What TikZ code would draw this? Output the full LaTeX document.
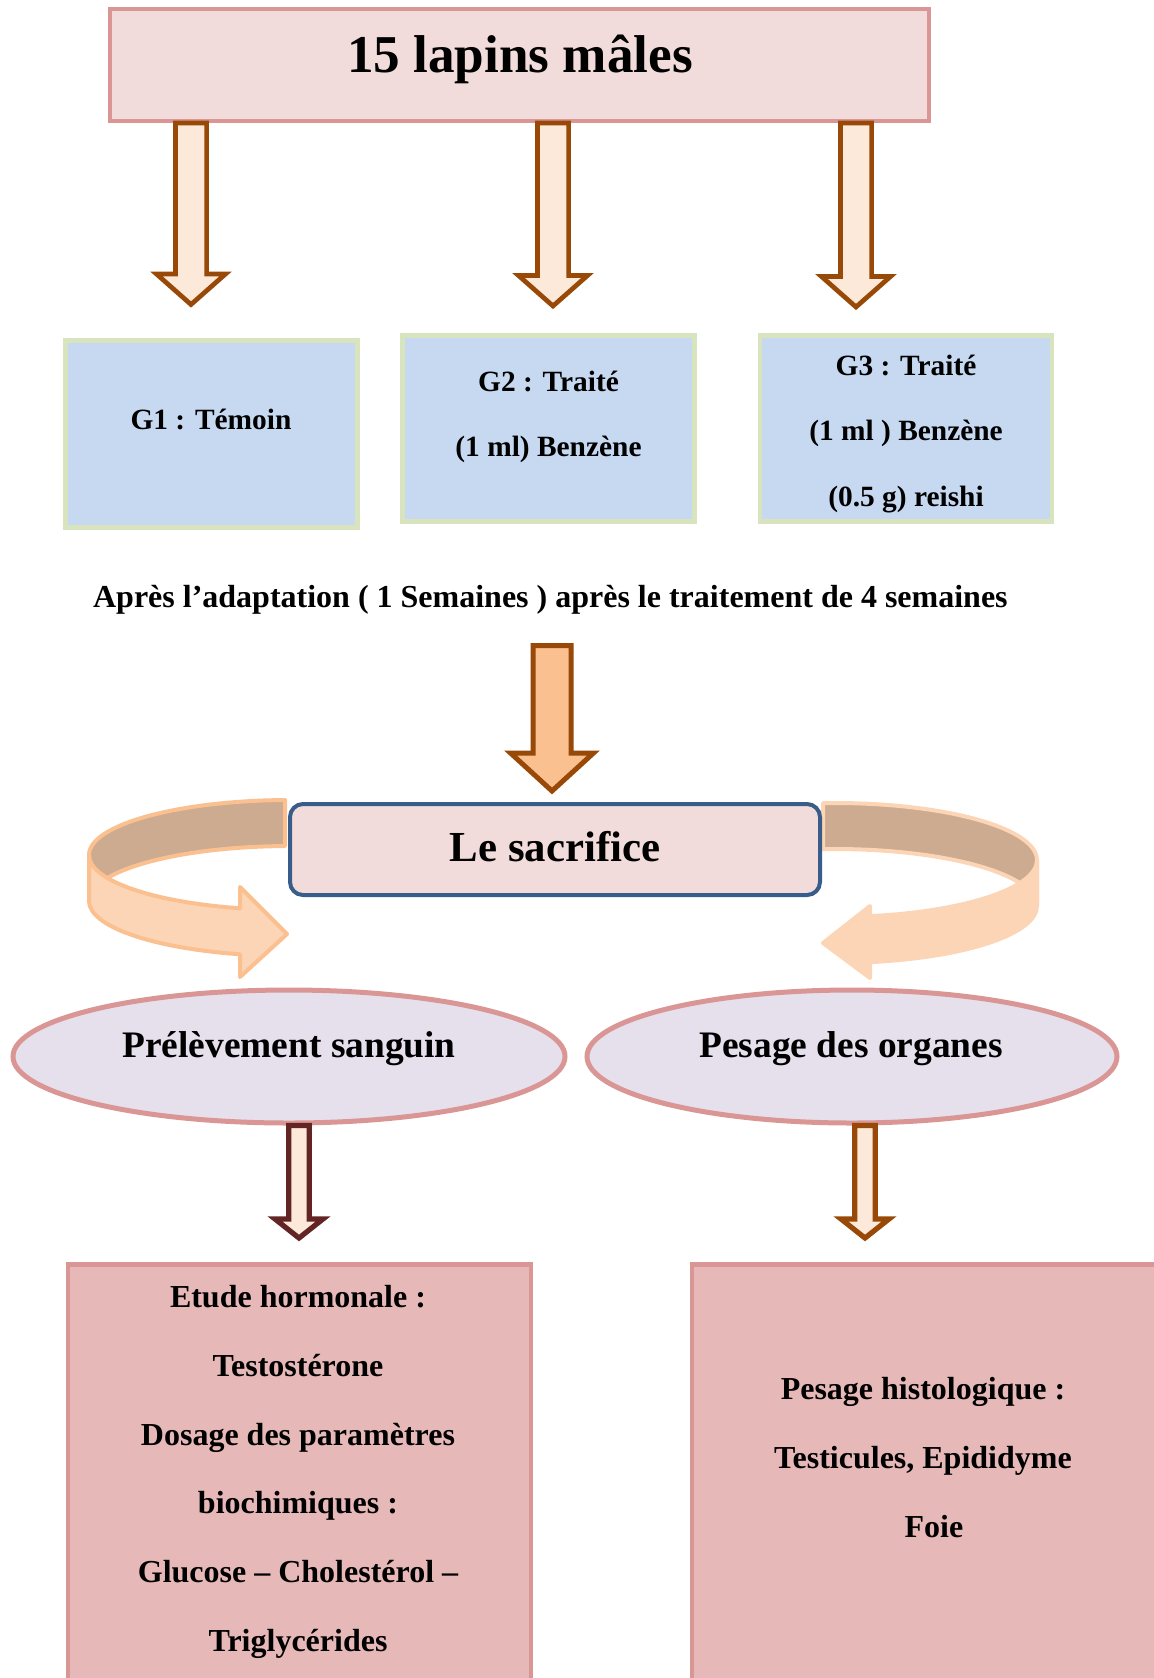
\documentclass[tikz,border=0pt]{standalone}
\usepackage{fontspec}
\setmainfont{Liberation Serif}
\usetikzlibrary{calc,shapes.geometric}

\definecolor{rosefond}{HTML}{F2DCDB}
\definecolor{rosebord}{HTML}{D99694}
\definecolor{peche}{HTML}{FDE9D9}
\definecolor{brun}{HTML}{984807}
\definecolor{bordeaux}{HTML}{632523}
\definecolor{bleufond}{HTML}{C6D9F1}
\definecolor{vertbord}{HTML}{D7E4BD}
\definecolor{abricot}{HTML}{FAC090}
\definecolor{bleubord}{HTML}{385D8A}
\definecolor{caramel}{HTML}{CCAB91}
\definecolor{rubanclair}{HTML}{FBD5B5}
\definecolor{lavande}{HTML}{E5E0EC}
\definecolor{vieuxrose}{HTML}{E6B9B8}

\newcommand{\flechebloc}[6][]{%
  \draw[#1] let \p1=(#2), \p2=(#3) in
    (\x2-#4,\y1) -- (\x2+#4,\y1) -- (\x2+#4,\y2+#6) -- (\x2+#5,\y2+#6)
    -- (\x2,\y2) -- (\x2-#5,\y2+#6) -- (\x2-#4,\y2+#6) -- cycle;}

\begin{document}
\begin{tikzpicture}[x=0.5pt, y=0.5pt]
	\tikzset{boite/.style={draw=rosebord, fill=rosefond, line width=2pt},
		groupe/.style={draw=vertbord, fill=bleufond, line width=2.4pt, minimum width=146pt, minimum height=93pt},
		bulle/.style={ellipse, draw=rosebord, fill=lavande, line width=2.5pt, minimum height=66.5pt},
		bilan/.style={draw=rosebord, fill=vieuxrose, line width=2.2pt, minimum height=217.75pt},
		fleche/.style={draw=brun, fill=peche, line width=2.35pt},
		ruban/.style={draw=abricot, fill=rubanclair, line width=2pt, line join=round},
		fond/.style={fill=caramel},
		petit/.style={font=\bfseries\fontsize{14.7}{32.75}\selectfont, align=center},
		moyen/.style={font=\bfseries\fontsize{16}{34.4}\selectfont, align=center},
		grand/.style={font=\bfseries\fontsize{18.7}{22}\selectfont, anchor=base}};

	\useasboundingbox (0,0) rectangle (1154,-1678);
	\clip (0,0) rectangle (1154,-1678);

	\node[boite, minimum width=409.5pt, minimum height=56pt] (lapins) at (519.5,-65) {};
	\node[font=\bfseries\fontsize{26.6}{32}\selectfont, anchor=base] (tlapins) at (520,-72) {15 lapins mâles};

	\coordinate (p1) at (191,-304.5);
	\coordinate (p2) at (553,-306);
	\coordinate (p3) at (856,-307);
	\flechebloc[fleche]{lapins.south -| p1}{p1}{7.8pt}{17.25pt}{15.25pt}
	\flechebloc[fleche]{lapins.south -| p2}{p2}{7.8pt}{17.25pt}{15.25pt}
	\flechebloc[fleche]{lapins.south -| p3}{p3}{7.8pt}{17.25pt}{15.25pt}

	\node[groupe, minimum height=93.5pt] (g1) at (211.5,-434) {};
	\node[groupe] (g2) at (548.5,-428.5) {};
	\node[groupe] (g3) at (906,-428.5) {};
	\node[petit, anchor=base] (tg1) at (211,-429) {G1 : Témoin};
	\node[petit] (tg2) at (548.5,-417) {G2 : Traité\\(1 ml) Benzène};
	\node[petit] (tg3) at (906,-434) {G3 : Traité\\(1 ml ) Benzène\\(0.5 g) reishi};

	\node[moyen, anchor=base] (apres) at (550.4,-607) {Après l’adaptation ( 1 Semaines ) après le traitement de 4 semaines};

	\coordinate (m0) at (552,-645.5);
	\coordinate (m1) at (552,-791);
	\flechebloc[fleche, fill=abricot, line width=2.5pt]{m0}{m1}{9.5pt}{20.75pt}{19pt}

	\coordinate (cg) at (290,-855);
	\coordinate (cd) at (835,-860);
	\filldraw[ruban, fond] (cg) ++(91.4:201 and 55) arc[start angle=91.4, end angle=180, x radius=201, y radius=55]
		-- ++(0,-46) arc[start angle=180, end angle=91.4, x radius=201, y radius=55] -- cycle;
	\filldraw[ruban] (cg) ++(180:201 and 55) arc[start angle=180, end angle=255.6, x radius=201, y radius=55]
		-- (240,-887) -- (287,-934) -- (240,-977) -- ($(cg)+(255.6:201 and 55)+(0,-46)$)
		arc[start angle=255.6, end angle=180, x radius=201, y radius=55] -- cycle;
	\filldraw[ruban, draw=rubanclair, fond] (cd) ++(93.4:202 and 57) arc[start angle=93.4, end angle=0, x radius=202, y radius=57]
		-- ++(0,-46) arc[start angle=0, end angle=93.4, x radius=202, y radius=57] -- cycle;
	\filldraw[ruban, draw=rubanclair] (cd) ++(0:202 and 57) arc[start angle=0, end angle=-80, x radius=202, y radius=57]
		-- (870,-906) -- (823,-943) -- (870,-978) -- ($(cd)+(-80:202 and 57)+(0,-46)$)
		arc[start angle=-80, end angle=0, x radius=202, y radius=57] -- cycle;

	\node[boite, draw=bleubord, rounded corners=6.5pt, minimum width=265pt, minimum height=45.5pt] (sacrifice) at (555,-849.5) {};
	\node[font=\bfseries\fontsize{21.4}{26}\selectfont, anchor=base] (tsacrifice) at (555,-861) {Le sacrifice};

	\node[bulle, minimum width=276pt] (prel) at (289,-1056.5) {};
	\node[bulle, minimum width=265pt] (pesage) at (852,-1056.5) {};
	\node[grand] (tprel) at (289,-1057) {Prélèvement sanguin};
	\node[grand] (tpesage) at (851,-1057) {Pesage des organes};

	\coordinate (b1) at (299,-1238);
	\coordinate (b2) at (865,-1238);
	\flechebloc[fleche, draw=bordeaux, line width=2.6pt]{prel.south -| b1}{b1}{5.1pt}{12pt}{9.5pt}
	\flechebloc[fleche, line width=2.6pt]{pesage.south -| b2}{b2}{5.1pt}{12pt}{9.5pt}

	\node[bilan, minimum width=231.5pt] (hormo) at (299.5,-1482.25) {};
	\node[bilan, minimum width=254pt] (histo) at (946,-1482.25) {};
	\node[moyen] (thormo) at (298,-1472) {Etude hormonale :\\Testostérone\\Dosage des paramètres\\biochimiques :\\Glucose – Cholestérol –\\Triglycérides};
	\node[moyen, font=\bfseries\fontsize{16}{34.5}\selectfont] (thisto) at (923,-1458) {Pesage histologique :\\Testicules, Epididyme\\\hspace*{11pt}Foie};
\end{tikzpicture}
\end{document}
